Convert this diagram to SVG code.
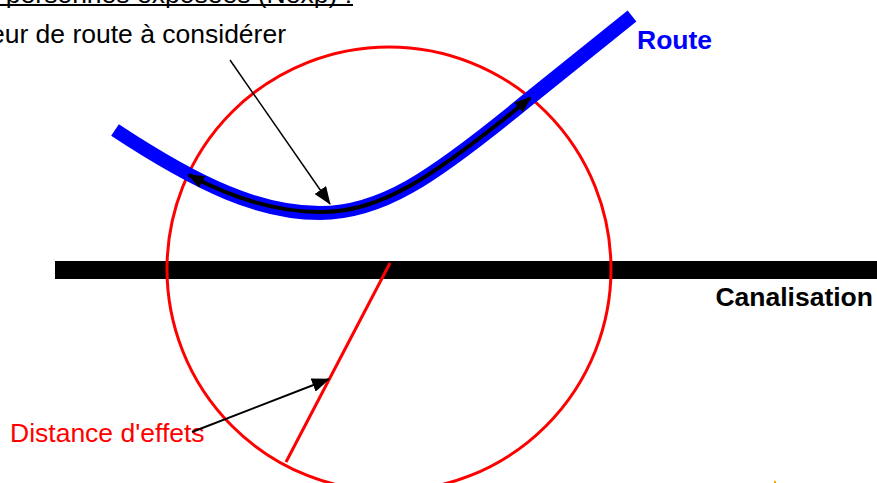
<svg xmlns="http://www.w3.org/2000/svg" width="877" height="483" viewBox="0 0 877 483">
  <style>
    .t { font-family: "Liberation Sans", Arial, sans-serif; font-size: 26.5px; }
    .b { font-weight: bold; }
    .red { stroke: #FF0000; fill: none; stroke-width: 3; }
  </style>
  <defs>
    <marker id="ah" markerUnits="userSpaceOnUse" markerWidth="18" markerHeight="14" refX="17" refY="7" orient="auto">
      <path d="M0,0 L18,7 L0,14 z" fill="#000"/>
    </marker>
    <marker id="ah2" markerUnits="userSpaceOnUse" markerWidth="17" markerHeight="13" refX="15" refY="6.5" orient="auto-start-reverse">
      <path d="M0,0 L17,6.5 L0,13 z" fill="#000"/>
    </marker>
  </defs>
  <rect width="877" height="483" fill="#fff"/>

  <g id="titre">
    <text class="t" x="352" y="3" text-anchor="end">personnes exposées (Nexp) :</text>
    <line x1="0" y1="5" x2="353" y2="5" stroke="#000" stroke-width="2"/>
  </g>

  <g id="canalisation">
    <rect x="55" y="261" width="822" height="18" fill="#000"/>
    <text class="t b" x="873" y="306" text-anchor="end">Canalisation</text>
  </g>

  <g id="cercle">
    <circle class="red" cx="389" cy="269" r="222"/>
    <line class="red" x1="390" y1="263" x2="286" y2="462"/>
  </g>

  <g id="route">
    <path d="M115,130 C200,186 260,213 320,213 C380,213 430,180 525,102 L632,16" fill="none" stroke="#0000FF" stroke-width="14"/>
    <text class="t b" x="637" y="49" fill="#0000FF">Route</text>
  </g>

  <g id="longueur">
    <path d="M189,175 C240,202 282,212 320,212 C380,212 430,180 530,98" fill="none" stroke="#000" stroke-width="4" marker-start="url(#ah2)" marker-end="url(#ah2)"/>
    <text class="t" x="286" y="43" text-anchor="end">eur de route à considérer</text>
  </g>

  <g id="distance">
    <text class="t" x="10" y="442" fill="#FF0000">Distance d'effets</text>
  </g>

  <g id="connecteurs">
    <line x1="230" y1="60" x2="330" y2="204" stroke="#000" stroke-width="1.5" marker-end="url(#ah)"/>
    <line x1="192" y1="432" x2="329" y2="379" stroke="#000" stroke-width="2" marker-end="url(#ah)"/>
  </g>

  <rect x="774" y="481" width="2" height="2" fill="#FFA500"/>
</svg>
